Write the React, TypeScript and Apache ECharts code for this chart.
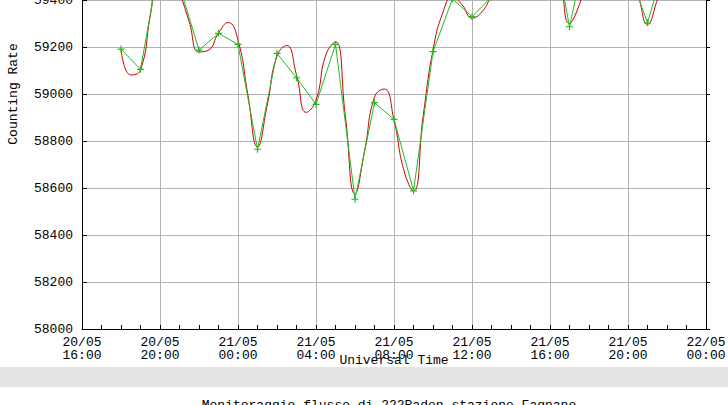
import React, { useEffect, useRef } from 'react';
import * as echarts from 'echarts';

// X axis tick labels (every 4 hours from 20/05 16:00)
const xTickLabels = [
  '20/05\n16:00', '20/05\n20:00', '21/05\n00:00', '21/05\n04:00', '21/05\n08:00',
  '21/05\n12:00', '21/05\n16:00', '21/05\n20:00', '22/05\n00:00',
];
const axisOrigin = '20/05 16:00';

// Green series: hourly values starting 20/05 18:00
const greenStart = '20/05 18:00';
const greenStepMinutes = 60;
const greenValues = [
  59191, 59105, 59570, 59460, 59187, 59258, 59211, 58765, 59173, 59069,
  58956, 59211, 58552, 58963, 58892, 58588, 59180, 59405, 59329, 59413,
  59560, 59680, 59730, 59286, 59677, 59700, 59530, 59303, 59585,
];

// Red series: half-hourly values starting 20/05 18:00
const redStart = '20/05 18:00';
const redStepMinutes = 30;
const redValues = [
  59191, 59081, 59102, 59332, 59549, 59540, 59434, 59307, 59179, 59187,
  59260, 59304, 59230, 59000, 58775, 58953, 59162, 59206, 59081, 58922,
  58974, 59166, 59222, 58910, 58575, 58762, 58987, 59021, 58889, 58677,
  58587, 58910, 59187, 59345, 59413, 59379, 59323, 59349, 59420, 59500,
  59580, 59650, 59700, 59740, 59740, 59557, 59300, 59379, 59527, 59655,
  59700, 59650, 59528, 59426, 59296, 59400, 59528,
];

const yName = 'Counting Rate';
const xName = 'Universal Time';
const footerTitle = 'Monitoraggio flusso di 222Radon stazione Fagnano';

const FONT = "'Liberation Mono', 'DejaVu Sans Mono', monospace";
const SHIFT = 141; // part of the chart that lies above the visible window

function parseTime(s: string): number {
  const [d, t] = s.split(' ');
  const [day, month] = d.split('/').map(Number);
  const [h, m] = t.split(':').map(Number);
  return (day + month * 31) * 24 + h + m / 60;
}

function buildSeries(start: string, stepMinutes: number, values: number[]) {
  const base = parseTime(start) - parseTime(axisOrigin);
  return values.map((v, i) => [base + (i * stepMinutes) / 60, v]);
}

export default function App() {
  const ref = useRef<HTMLDivElement>(null);
  useEffect(() => {
    if (!ref.current) return;
    const chart = echarts.init(ref.current, undefined, { renderer: 'svg' });
    const plus = 'path://M-0.5,-3L0.5,-3L0.5,-0.5L3,-0.5L3,0.5L0.5,0.5L0.5,3L-0.5,3L-0.5,0.5L-3,0.5L-3,-0.5L-0.5,-0.5Z';
    chart.setOption({
      animation: false,
      backgroundColor: '#ffffff',
      grid: { left: 82, right: 22, top: 0, bottom: 76, containLabel: false, outerBoundsMode: 'none' },
      xAxis: {
        type: 'value',
        min: 0,
        max: 32,
        interval: 4,
        name: xName,
        nameLocation: 'middle',
        nameGap: 25,
        nameMoveOverlap: false,
        nameTextStyle: { fontFamily: FONT, fontSize: 13, color: '#000' },
        axisLine: { show: true, lineStyle: { color: '#000', width: 1 } },
        axisTick: { show: true, inside: true, length: 4, lineStyle: { color: '#000' } },
        minorTick: { show: true, splitNumber: 4, length: 4, lineStyle: { color: '#000' } },
        splitLine: { show: true, lineStyle: { color: '#b4b4b4', width: 1 } },
        axisLabel: {
          margin: 7,
          fontFamily: FONT,
          fontSize: 13,
          lineHeight: 13,
          color: '#000',
          formatter: (v: number) => xTickLabels[Math.round(v / 4)] ?? '',
        },
      },
      yAxis: [
        {
          type: 'value',
          min: 58000,
          max: 60000,
          interval: 200,
          name: yName,
          nameLocation: 'middle',
          nameGap: 62,
          nameMoveOverlap: false,
          nameTextStyle: { fontFamily: FONT, fontSize: 13, color: '#000' },
          axisLine: { show: true, lineStyle: { color: '#000', width: 1 } },
          axisTick: { show: true, inside: true, length: 5, lineStyle: { color: '#000' } },
          splitLine: { show: true, lineStyle: { color: '#b4b4b4', width: 1 } },
          axisLabel: {
            margin: 9,
            fontFamily: FONT,
            fontSize: 13,
            color: '#000',
            formatter: (v: number) => String(v),
          },
        },
        {
          type: 'value',
          position: 'right',
          min: 58000,
          max: 60000,
          interval: 200,
          axisLine: { show: true, lineStyle: { color: '#000', width: 1 } },
          axisTick: { show: true, inside: false, length: 4, lineStyle: { color: '#000' } },
          splitLine: { show: false },
          axisLabel: { show: false },
        },
      ],
      graphic: [
        { type: 'rect', shape: { x: 0, y: 367 + SHIFT, width: 728, height: 20 }, style: { fill: '#e4e4e4' }, silent: true },
        {
          type: 'text',
          x: 389,
          y: 399 + SHIFT,
          style: {
            text: footerTitle,
            fontFamily: FONT,
            fontSize: 13,
            fill: '#000',
            textAlign: 'center',
            textVerticalAlign: 'top',
          },
        },
      ],
      series: [
        {
          type: 'line',
          name: 'red',
          data: buildSeries(redStart, redStepMinutes, redValues),
          smooth: 0.5,
          showSymbol: false,
          symbol: 'none',
          lineStyle: { color: '#cc0000', width: 1 },
          z: 2,
        },
        {
          type: 'line',
          name: 'green',
          data: buildSeries(greenStart, greenStepMinutes, greenValues),
          symbol: plus,
          symbolSize: 7,
          showSymbol: true,
          itemStyle: { color: '#22bb22' },
          lineStyle: { color: '#22bb22', width: 1 },
          z: 3,
        },
      ],
    });
    return () => chart.dispose();
  }, []);
  return (
    <div
      ref={ref}
      style={{ position: 'fixed', left: 0, top: -SHIFT, width: 728, height: 405 + SHIFT, background: '#fff' }}
    />
  );
}
